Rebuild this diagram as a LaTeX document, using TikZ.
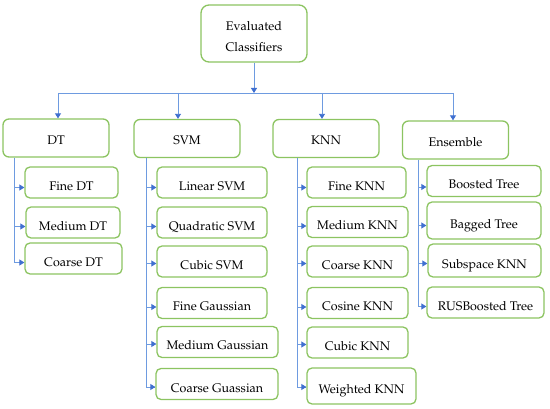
\documentclass[tikz,border=0pt]{standalone}
\usepackage[T1]{fontenc}
\usepackage{mathpazo}
\usepackage{tikz}
\usetikzlibrary{arrows.meta,calc}
\definecolor{Edge}{HTML}{8CC461}
\definecolor{Link}{HTML}{6E9BE0}
\definecolor{Tip}{HTML}{3F6FD0}

\begin{document}
\begin{tikzpicture}[x=1pt,y=-1pt,
  root/.style={draw=Edge,line width=1.3pt,rounded corners=8pt,fill=white,minimum width=106pt,minimum height=57pt,align=center,text height=37pt,text depth=0pt,font=\fontsize{12.5}{20}\selectfont},
  group/.style={draw=Edge,line width=1.3pt,rounded corners=6pt,fill=white,minimum width=106pt,minimum height=38pt,text height=12.6pt,text depth=0pt,font=\fontsize{12.5}{15}\selectfont},
  leaf/.style={draw=Edge,line width=1.3pt,rounded corners=5pt,fill=white,minimum width=#1,minimum height=31pt,inner xsep=2pt,text height=16pt,text depth=0pt,font=\fontsize{12.5}{15}\selectfont},
  link/.style={draw=Link,line width=0.9pt},
  arr/.style={link,-{Triangle[length=5pt,width=6pt,color=Tip]}}
]
\useasboundingbox (0,0) rectangle (550,409);
\node[root] (root) at (254,33.5) {Evaluated\\[1pt]Classifiers};
\node[group] (dt) at (56,138) {DT};
\node[group] (svm) at (187,138.5) {SVM};
\node[group] (knn) at (326,138.5) {KNN};
\node[group] (ens) at (455.5,140) {Ensemble};
% decision trees
\node[leaf=93pt] (fdt) at (71.5,182.5) {Fine DT};
\node[leaf=94pt] (mdt) at (73,222.5) {Medium DT};
\node[leaf=97pt] (cdt) at (73.5,258.5) {Coarse DT};
% support vector machines
\node[leaf=110pt] (lsvm) at (212,182.5) {Linear SVM};
\node[leaf=110pt] (qsvm) at (212,222.5) {Quadratic SVM};
\node[leaf=110pt] (csvm) at (212,261.5) {Cubic SVM};
\node[leaf=110pt] (fgau) at (212,303) {Fine Gaussian};
\node[leaf=121pt] (mgau) at (217.5,342) {Medium Gaussian};
\node[leaf=122pt] (cgau) at (217,384) {Coarse Guassian};
% nearest neighbours
\node[leaf=99pt] (fknn) at (356.5,182.5) {Fine KNN};
\node[leaf=101pt] (mknn) at (357.5,222) {Medium KNN};
\node[leaf=101pt] (cknn) at (357.5,261.5) {Coarse KNN};
\node[leaf=101pt] (oknn) at (357.5,303) {Cosine KNN};
\node[leaf=101pt] (uknn) at (357.5,342.5) {Cubic KNN};
\node[leaf=109pt,minimum height=36pt] (wknn) at (361.5,386) {Weighted KNN};
% ensembles
\node[leaf=114pt] (bost) at (484,181) {Boosted Tree};
\node[leaf=114pt,minimum height=37pt] (bagt) at (484,220.5) {Bagged Tree};
\node[leaf=113pt,minimum height=33pt] (subk) at (484.5,260.5) {Subspace KNN};
\node[leaf=117pt] (rusb) at (485.5,302.5) {RUSBoosted Tree};
% bus
\coordinate (dtTap) at (58,93);
\coordinate (svmTap) at (178,93);
\coordinate (knnTap) at (322,93);
\coordinate (ensTap) at (453,93);
\draw[link] (dtTap) -- (ensTap);
\draw[arr] (root.south) -- (root.south |- dtTap);
\foreach \g in {dt,svm,knn,ens} {
  \draw[arr] (\g Tap) -- (\g Tap |- \g.north);
}
% spines
\coordinate (dtx) at (14,0);
\coordinate (svmx) at (146,0);
\coordinate (knnx) at (297,0);
\coordinate (ensx) at (418,0);
\draw[link] (dt.south -| dtx) |- ($(cdt.west)+(0,4)$);
\draw[link] (svm.south -| svmx) |- ($(cgau.west)+(0,3)$);
\draw[link] (knn.south -| knnx) |- ($(wknn.west)+(0,1)$);
\draw[link] (ens.south -| ensx) |- ($(rusb.west)+(0,4)$);
\foreach \g/\n/\d in {dt/fdt/5,dt/mdt/4,dt/cdt/4,svm/lsvm/5,svm/qsvm/4,svm/csvm/2,svm/fgau/4,svm/mgau/2,svm/cgau/3,knn/fknn/5,knn/mknn/4,knn/cknn/2,knn/oknn/4,knn/uknn/2,knn/wknn/1,ens/bost/6,ens/bagt/5,ens/subk/3,ens/rusb/4} {
  \draw[arr] (\g x |- \n.west) ++(0,\d) -- ($(\n.west)+(0,\d)$);
}
\end{tikzpicture}
\end{document}
